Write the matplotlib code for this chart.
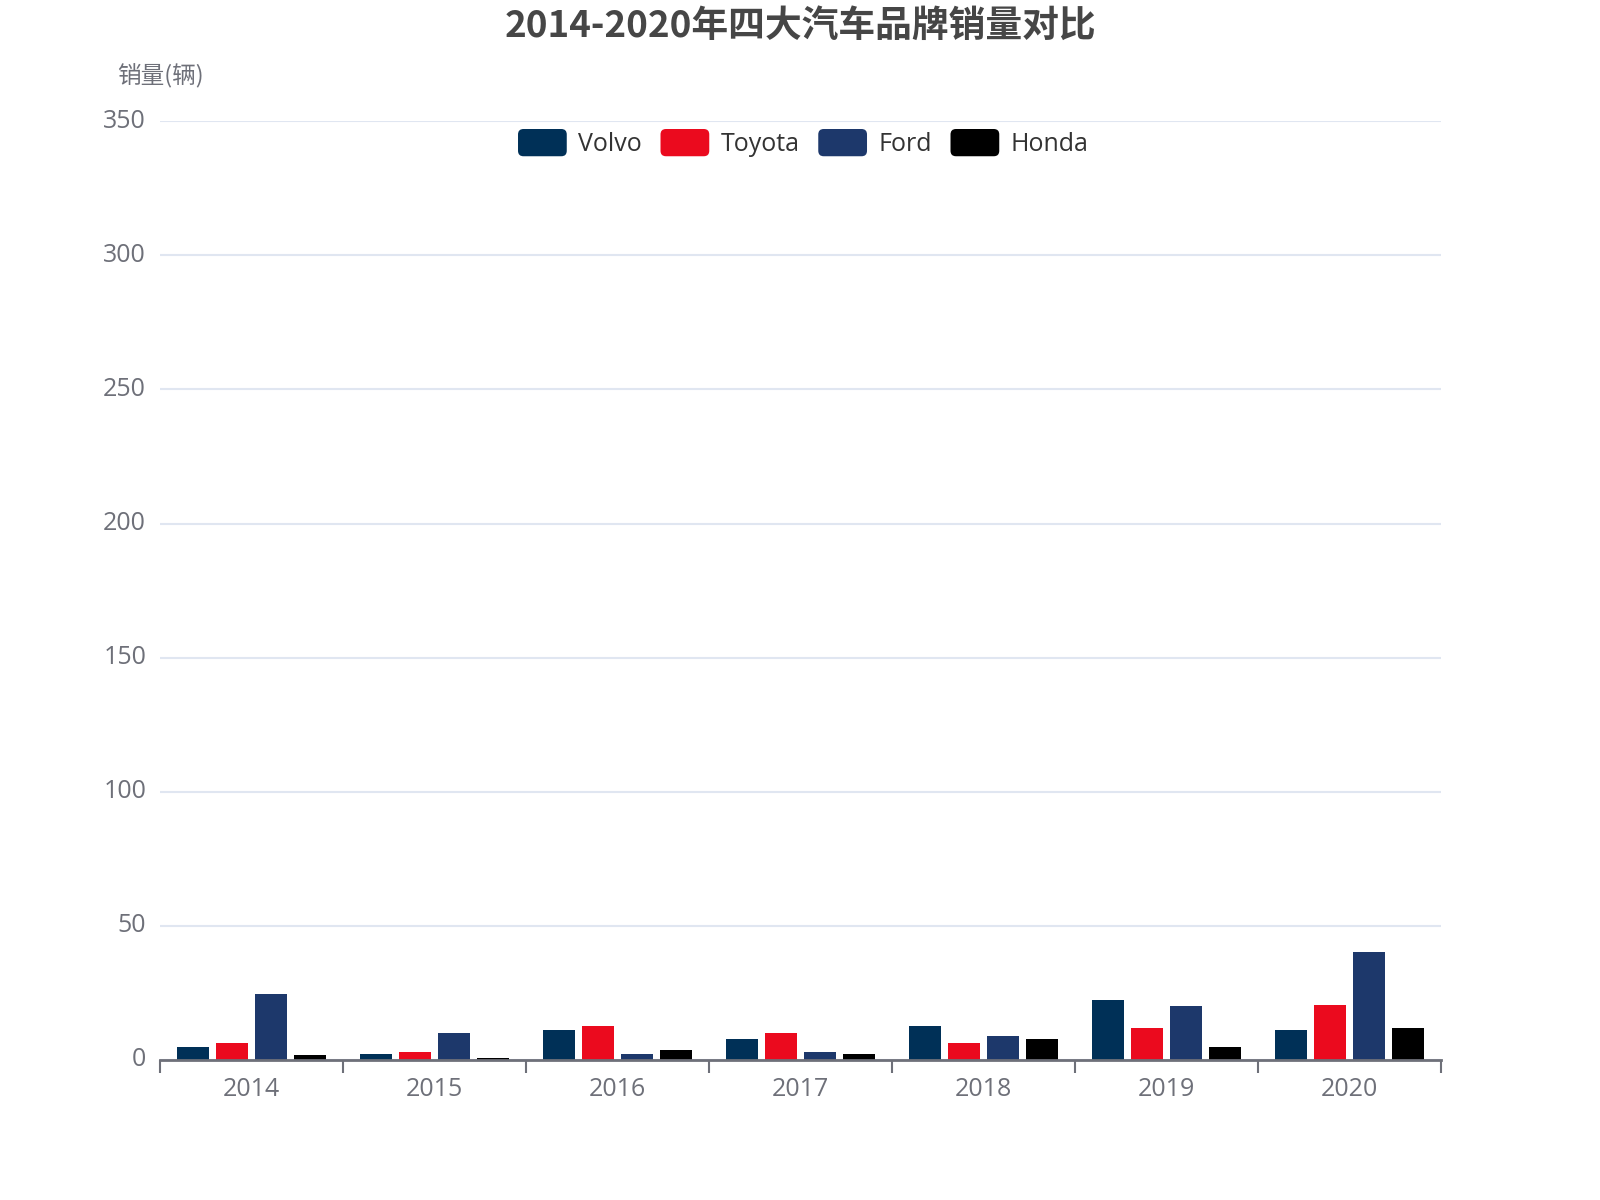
import numpy as np
import matplotlib
matplotlib.use("Agg")
import matplotlib.pyplot as plt
import matplotlib.transforms as mtransforms
from matplotlib.patches import FancyBboxPatch, Patch
from matplotlib.legend_handler import HandlerPatch

plt.rcParams['font.family'] = ['Open Sans', 'Noto Sans CJK SC', 'DejaVu Sans']
cjk = ['Noto Sans CJK SC', 'DejaVu Sans']

years = ['2014', '2015', '2016', '2017', '2018', '2019', '2020']
brands = ['Volvo', 'Toyota', 'Ford', 'Honda']
volvo = [5, 2.2, 11.1, 7.8, 12.6, 22.2, 11]
toyota = [6.4, 3, 12.6, 10, 6.4, 12.1, 20.5]
ford = [24.6, 10, 2.1, 3, 9.1, 20, 40.2]
honda = [1.9, 0.6, 3.6, 2.1, 8, 5, 12]
colors = ['#003057', '#EB0A1E', '#1D386B', '#000000']

grey = '#6E7079'


class RoundBoxHandler(HandlerPatch):
    def create_artists(self, legend, orig_handle, xdescent, ydescent,
                       width, height, fontsize, trans):
        p = FancyBboxPatch((-xdescent, -ydescent), width, height,
                           boxstyle="round,pad=0,rounding_size=%f" % (height * 0.2),
                           facecolor=orig_handle.get_facecolor(),
                           edgecolor='none', transform=trans)
        return [p]


fig = plt.figure(figsize=(16, 12), dpi=100)
ax = fig.add_axes([0.1, 0.1167, 0.8006, 0.7823])

x = np.arange(len(years))
step = 0.2115
w = 0.175
series = [volvo, toyota, ford, honda]
for i, (vals, c) in enumerate(zip(series, colors)):
    ax.bar(x + (i - 1.5) * step, vals, width=w, color=c, label=brands[i], zorder=3)

ax.set_xlim(-0.5, len(years) - 0.5)
ax.set_ylim(0, 350)
ax.set_yticks(np.arange(0, 351, 50))
ax.yaxis.grid(True, color='#E0E6F1', linewidth=1.5, zorder=0)
ax.tick_params(axis='y', length=0, labelsize=18, labelcolor=grey, pad=10)
shift = mtransforms.ScaledTranslation(0, 3 / 100, fig.dpi_scale_trans)
for lab in ax.get_yticklabels():
    lab.set_transform(lab.get_transform() + shift)

ax.set_xticks(x)
ax.set_xticklabels(years)
ax.set_xticks(np.arange(-0.5, len(years), 1), minor=True)
ax.tick_params(axis='x', which='major', length=0, labelsize=18, labelcolor=grey, pad=12)
ax.tick_params(axis='x', which='minor', length=9, width=1.5, color=grey)

for s in ['top', 'right', 'left']:
    ax.spines[s].set_visible(False)
ax.spines['bottom'].set_color(grey)
ax.spines['bottom'].set_linewidth(2)
ax.spines['bottom'].set_zorder(4)

fig.text(0.1, 1 - 76 / 1200, '销量(辆)', ha='center', va='center',
         fontsize=17, color=grey, family=cjk)
fig.text(0.5, 1 - 26 / 1200, '2014-2020年四大汽车品牌销量对比', ha='center', va='center',
         fontsize=26.5, fontweight='bold', color='#464646', family=cjk)

handles = [Patch(facecolor=c) for c in colors]
fig.legend(handles, brands, loc='center', bbox_to_anchor=(0.502, 1 - 143 / 1200),
           ncol=4, frameon=False, fontsize=18, labelcolor='#333333',
           handler_map={Patch: RoundBoxHandler()},
           handlelength=1.95, handleheight=1.3, handletextpad=0.45, columnspacing=0.75)

fig.savefig('out.png', dpi=100, facecolor='white')
